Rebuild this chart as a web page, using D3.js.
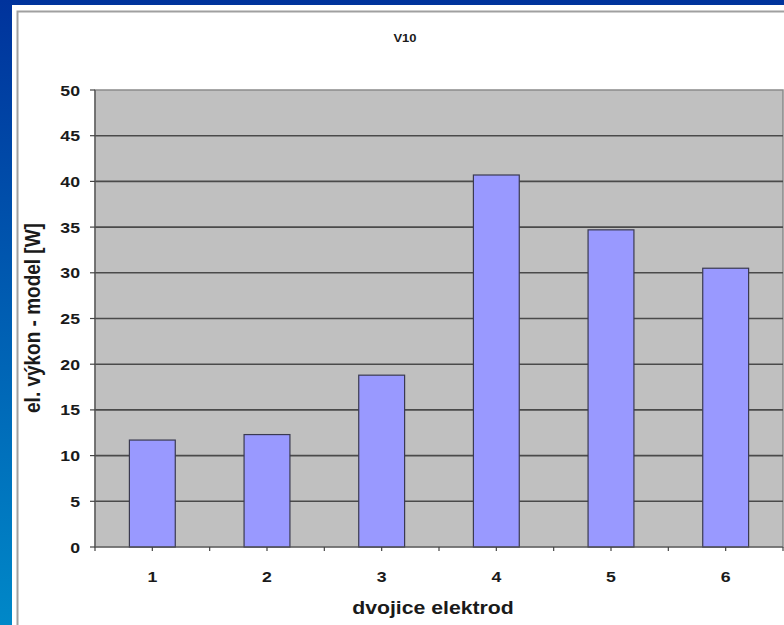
<!DOCTYPE html>
<html><head><meta charset="utf-8">
<script src="https://cdn.jsdelivr.net/npm/d3@7"></script>
<style>body{margin:0;background:#fff}svg{display:block}</style></head>
<body>
<script>
const categories = ["1", "2", "3", "4", "5", "6"];
const values = [11.7, 12.3, 18.8, 40.7, 34.7, 30.5];
const yTickValues = [0, 5, 10, 15, 20, 25, 30, 35, 40, 45, 50];
const chartTitle = "V10";
const xTitle = "dvojice elektrod";
const yTitle = "el. výkon - model [W]";

const W = 784, H = 625;
const svg = d3.select("body").append("svg").attr("width", W).attr("height", H);
const defs = svg.append("defs");
const g = defs.append("linearGradient").attr("id", "bg").attr("x1", 0).attr("y1", 0).attr("x2", 0).attr("y2", 1);
g.append("stop").attr("offset", "0").attr("stop-color", "#00339c");
g.append("stop").attr("offset", "1").attr("stop-color", "#0088c8");
svg.append("rect").attr("width", W).attr("height", H).attr("fill", "url(#bg)");
svg.append("rect").attr("x", 12).attr("y", 5).attr("width", W).attr("height", H).attr("fill", "#fff");
svg.append("rect").attr("x", 17.5).attr("y", 11.5).attr("width", W).attr("height", H)
  .attr("fill", "none").attr("stroke", "#a0a0a0").attr("stroke-width", 2);

const L = 95, R = 783, T = 90, B = 547;
const x = d3.scaleBand().domain(categories).range([L, R]).paddingInner(0.6).paddingOuter(0.3);
const y = d3.scaleLinear().domain([0, 50]).range([B, T]);
const SX = 1.18;
const font = "Arial, 'Liberation Sans', sans-serif";

svg.append("rect").attr("x", L).attr("y", T).attr("width", R - L).attr("height", B - T)
  .attr("fill", "#c0c0c0").attr("stroke", "#8a8a8a").attr("stroke-width", 1.5);

svg.append("g").selectAll("line").data(yTickValues.filter(v => v > 0 && v < 50)).join("line")
  .attr("x1", L).attr("x2", R).attr("y1", d => y(d)).attr("y2", d => y(d))
  .attr("stroke", "#4a4a4a").attr("stroke-width", 1.6);

svg.append("g").selectAll("rect").data(values).join("rect")
  .attr("x", (d, i) => x(categories[i])).attr("width", x.bandwidth())
  .attr("y", d => y(d)).attr("height", d => y(0) - y(d))
  .attr("fill", "#9999ff").attr("stroke", "#3a3a50").attr("stroke-width", 1.2);

svg.append("line").attr("x1", L).attr("x2", L).attr("y1", T).attr("y2", B).attr("stroke", "#555").attr("stroke-width", 1.2);
svg.append("line").attr("x1", L).attr("x2", R).attr("y1", B).attr("y2", B).attr("stroke", "#555").attr("stroke-width", 1.2);

svg.append("g").selectAll("line").data(yTickValues).join("line")
  .attr("x1", L - 5).attr("x2", L).attr("y1", d => y(d)).attr("y2", d => y(d))
  .attr("stroke", "#444").attr("stroke-width", 1.2);
svg.append("g").selectAll("text").data(yTickValues).join("text")
  .attr("transform", d => `translate(80,${y(d) + 5.5}) scale(${SX},1)`)
  .attr("text-anchor", "end").attr("font-family", font).attr("font-weight", "bold")
  .attr("font-size", 15).attr("fill", "#1a1a1a").text(d => d);

const step = x.step();
const bounds = d3.range(categories.length + 1).map(i => L + i * step);
const centers = categories.map(c => x(c) + x.bandwidth() / 2);
svg.append("g").selectAll("line").data(bounds.concat(centers)).join("line")
  .attr("x1", d => d).attr("x2", d => d).attr("y1", B).attr("y2", B + 4)
  .attr("stroke", "#444").attr("stroke-width", 1.2);
svg.append("g").selectAll("text").data(categories).join("text")
  .attr("transform", c => `translate(${x(c) + x.bandwidth() / 2},582) scale(${SX},1)`)
  .attr("text-anchor", "middle").attr("font-family", font).attr("font-weight", "bold")
  .attr("font-size", 15).attr("fill", "#1a1a1a").text(c => c);

svg.append("text").attr("transform", `translate(405,42) scale(${SX},1)`)
  .attr("text-anchor", "middle").attr("font-family", font).attr("font-weight", "bold")
  .attr("font-size", 11).attr("fill", "#1a1a1a").text(chartTitle);
svg.append("text").attr("transform", `translate(433,614) scale(${SX},1)`)
  .attr("text-anchor", "middle").attr("font-family", font).attr("font-weight", "bold")
  .attr("font-size", 18).attr("fill", "#1a1a1a").text(xTitle);
svg.append("text").attr("transform", `translate(40,318) scale(${SX},1) rotate(-90)`)
  .attr("text-anchor", "middle").attr("font-family", font).attr("font-weight", "bold")
  .attr("font-size", 19).attr("fill", "#1a1a1a").text(yTitle);
</script>
</body></html>
